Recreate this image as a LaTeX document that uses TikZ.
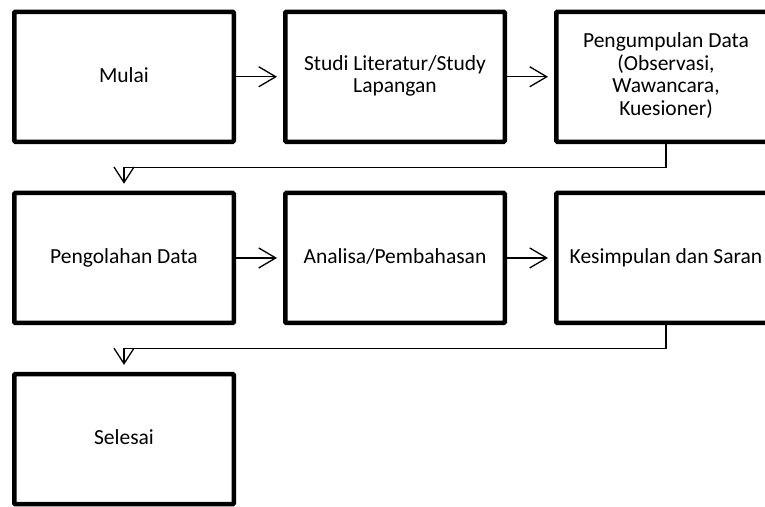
\documentclass[tikz,border=0pt]{standalone}
\usepackage{fontspec}
\setmainfont{Carlito}
\usetikzlibrary{positioning,arrows.meta}
\newcommand{\boxstrut}{\rule[-5.5pt]{0pt}{22.5pt}}

\begin{document}
\begin{tikzpicture}[
		  node distance=46.7pt and 47pt,
		  boxnode/.style={draw,line width=4.5pt,rounded corners=1pt,minimum width=219.5pt,minimum height=130pt,align=center,font=\fontsize{21.5}{22.5}\selectfont,execute at begin node=\boxstrut,execute at end node=\boxstrut},
		  arr/.style={line width=1.3pt,-{Straight Barb[length=17pt,width=20pt]},shorten >=6pt},
		  downarr/.style={line width=1.3pt,-{Straight Barb[length=15.5pt,width=20pt]},shorten >=7pt}
		]
		\useasboundingbox (0,0) rectangle (765pt,-506pt);
		\clip (0,0) rectangle (765pt,-506pt);
		\node[boxnode] at (124pt,-76.75pt) (mulai) {Mulai};
		\node[boxnode, right=of mulai] (studi) {Studi Literatur/Study\\Lapangan};
		\node[boxnode, right=of studi] (kumpul) {Pengumpulan Data\\(Observasi,\\Wawancara,\\Kuesioner)};
		\node[boxnode, below=of mulai] (olah) {Pengolahan Data};
		\node[boxnode, right=of olah] (analisa) {Analisa/Pembahasan};
		\node[boxnode, right=of analisa] (simpul) {Kesimpulan dan Saran};
		\node[boxnode, below=of olah] (selesai) {Selesai};
		\path (mulai) edge[arr] (studi)
			(studi) edge[arr] (kumpul)
			(olah) edge[arr] (analisa)
			(analisa) edge[arr] (simpul);
		\draw[downarr] (kumpul.south) -- ++(0,-23.3pt) -| (olah.north);
		\draw[downarr] (simpul.south) -- ++(0,-23.3pt) -| (selesai.north);
		\end{tikzpicture}
\end{document}
